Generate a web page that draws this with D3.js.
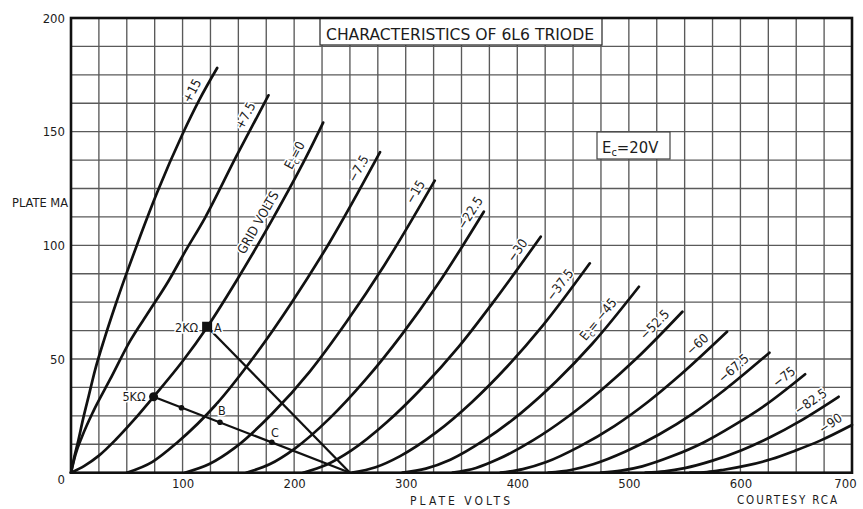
<!DOCTYPE html>
<html><head><meta charset="utf-8">
<script src="https://cdn.jsdelivr.net/npm/d3@7"></script>
<style>
body{margin:0;background:#fff;}
svg{display:block;background:#fff;}
text{font-family:'DejaVu Sans','Liberation Sans',sans-serif;font-stretch:condensed;fill:#1c1c1c;}
</style></head><body>
<svg id="c" width="863" height="509"></svg>
<script>
// ---------------- DATA ----------------
const gridVoltLabels = ["+15","+7.5","0","−7.5","−15","−22.5","−30","−37.5","−45","−52.5","−60","−67.5","−75","−82.5","−90"];
// plate volts , plate mA
const ecP15   = [[0,0],[3,7],[6,13],[11,24],[16,34],[21.5,45],[30,59],[40,74],[50,88],[62,104],[77,123],[100,149],[115,164],[131,178]];
const ecP7_5  = [[0,0],[4,8],[10,16],[20,27],[35,41],[53,58],[70,71],[87,84],[102,97],[120,112],[148,139],[177,166]];
const ec0     = [[0,0],[12,3],[25,7.5],[40,14.5],[56,23],[74,33.4],[100,49],[122,64],[149,85],[180,111],[213,141],[226,154]];
const ecM7_5  = [[50,0],[73,4.8],[95,13.2],[130,30],[164,51],[198,75],[232,101.5],[277,141]];
const ecM15   = [[102,0],[124,3.8],[147,11],[180,25.8],[214,44.5],[247,66.4],[281,91.4],[326,128.5]];
const ecM22_5 = [[157,0],[178,3.7],[200,10.4],[232,24],[264,40.9],[296,60.4],[328,82.3],[370,114.8]];
const ecM30   = [[208,0],[229,3.5],[251,9.7],[283,22.2],[315,37.5],[347,55.1],[378,74.7],[421,103.8]];
const ecM37_5 = [[252,0],[273,2.4],[295,7.3],[327,17.6],[359,30.9],[391,46.7],[423,64.8],[465,92.1]];
const ecM45   = [[297,0],[318,1.8],[340,5.7],[371,14.5],[403,26.1],[435,40.2],[467,56.6],[509,81.8]];
const ecM52_5 = [[342,0],[363,2.1],[383,6],[414,14.2],[445,24.5],[476,36.6],[507,50.3],[548,70.8]];
const ecM60   = [[385,0],[405,1.6],[426,4.7],[456,11.6],[487,20.5],[517,31.1],[547,43.4],[588,62]];
const ecM67_5 = [[428,0],[448,1.2],[468,3.7],[497,9.3],[527,16.8],[557,25.9],[586,36.5],[626,52.8]];
const ecM75   = [[475,0],[493,0.9],[512,2.8],[539,7.3],[567,13.3],[594,20.8],[622,29.6],[658,43.3]];
const ecM82_5 = [[515,0],[532,0.6],[550,2],[575,5.3],[601,9.9],[627,15.7],[653,22.6],[688,33.4]];
const ecM90   = [[555,0],[570,0.3],[584,1.2],[606,3.2],[628,6],[649,9.7],[671,14],[700,21]];
const curves = [ecP15,ecP7_5,ec0,ecM7_5,ecM15,ecM22_5,ecM30,ecM37_5,ecM45,ecM52_5,ecM60,ecM67_5,ecM75,ecM82_5,ecM90];

const load2k = [[122,64.2],[250,0]];
const load5k = [[74,33.4],[250,0]];
const pointA = [122,64.2];
const point5k = [74,33.4];
const pointB = [133.5,22.2];
const pointC = [180,13.4];
const pointSmall = [99,28.6];

const xTicks = [100,200,300,400,500,600,700];
const yTicks = [0,50,100,150,200];
const titleText = "CHARACTERISTICS OF 6L6 TRIODE";

// ---------------- LAYOUT ----------------
const x = d3.scaleLinear().domain([0,700]).range([71,852]);
const y = d3.scaleLinear().domain([0,200]).range([472.7,18]);
const svg = d3.select('#c');
const labelAnchorV = [117,165,209,266,317,366,408,446,480,530,568,600,645,668,685];
const labelAngleTweak = [0,0,0,0,0,0,0,0,0,0,0,-2,0,-2,-8];

// grid
const g = svg.append('g');
g.selectAll('line.v').data(d3.range(25,700,25)).join('line').attr('class','v')
  .attr('x1',d=>x(d)).attr('x2',d=>x(d)).attr('y1',y(0)).attr('y2',y(200))
  .attr('stroke','#5a5a5a').attr('stroke-width',1.35);
g.selectAll('line.h').data(d3.range(12.5,200,12.5)).join('line').attr('class','h')
  .attr('x1',x(0)).attr('x2',x(700)).attr('y1',d=>y(d)).attr('y2',d=>y(d))
  .attr('stroke','#5a5a5a').attr('stroke-width',1.35);

// title box
svg.append('rect').attr('x',320).attr('y',y(200)).attr('width',282).attr('height',27)
  .attr('fill','#fff').attr('stroke','#333').attr('stroke-width',1.3);
svg.append('text').attr('x',326).attr('y',39.5).attr('font-size',16.5)
  .attr('textLength',268).attr('lengthAdjust','spacingAndGlyphs').text(titleText);

// Ec = 20V box
svg.append('rect').attr('x',597).attr('y',132).attr('width',73).attr('height',27)
  .attr('fill','#fff').attr('stroke','#444').attr('stroke-width',1.2);
const ecT = svg.append('text').attr('x',602).attr('y',153).attr('font-size',16.5);
ecT.append('tspan').text('E');
ecT.append('tspan').attr('font-size',11).attr('dy',3).text('c');
ecT.append('tspan').attr('dy',-3).text('=20V');

// frame
svg.append('rect').attr('x',x(0)).attr('y',y(200)).attr('width',x(700)-x(0)).attr('height',y(0)-y(200))
  .attr('fill','none').attr('stroke','#111').attr('stroke-width',2.6);

// axes
const gx = svg.append('g').attr('transform',`translate(0,${y(0)})`)
  .call(d3.axisBottom(x).tickValues(xTicks).tickSize(0).tickPadding(6).tickFormat(d3.format('d')));
gx.select('.domain').remove();
gx.selectAll('text').attr('font-size',13).attr('font-family',"'DejaVu Sans',sans-serif").attr('fill','#222')
  .attr('dx',d=>d===700?-7:0);
const gy = svg.append('g').attr('transform',`translate(${x(0)},0)`)
  .call(d3.axisLeft(y).tickValues(yTicks).tickSize(0).tickPadding(6).tickFormat(d3.format('d')));
gy.select('.domain').remove();
gy.selectAll('text').attr('font-size',13).attr('font-family',"'DejaVu Sans',sans-serif").attr('fill','#222')
  .attr('dy',d=>d===0?'0.85em':'0.32em');

svg.append('text').attr('x',68).attr('y',207).attr('text-anchor','end').attr('font-size',11.5)
  .attr('textLength',56).attr('lengthAdjust','spacingAndGlyphs').text('PLATE MA');
svg.append('text').attr('x',410).attr('y',505).attr('font-size',12)
  .attr('textLength',100).attr('lengthAdjust','spacing').text('PLATE VOLTS');
svg.append('text').attr('x',737).attr('y',504).attr('font-size',11.5)
  .attr('textLength',100).attr('lengthAdjust','spacing').text('COURTESY RCA');

// curves
const line = d3.line().x(d=>x(d[0])).y(d=>y(d[1])).curve(d3.curveMonotoneX);
svg.append('g').selectAll('path').data(curves).join('path')
  .attr('d',line).attr('fill','none').attr('stroke','#111').attr('stroke-width',2.7)
  .attr('stroke-linecap','round').attr('stroke-linejoin','round');

// load lines
const straight = d3.line().x(d=>x(d[0])).y(d=>y(d[1]));
svg.append('g').selectAll('path').data([load2k,load5k]).join('path')
  .attr('d',straight).attr('fill','none').attr('stroke','#111').attr('stroke-width',2.3);

svg.append('rect').attr('x',x(pointA[0])-5).attr('y',y(pointA[1])-5).attr('width',10).attr('height',10).attr('fill','#111');
svg.append('circle').attr('cx',x(point5k[0])).attr('cy',y(point5k[1])).attr('r',4.5).attr('fill','#111');
svg.selectAll('circle.sm').data([pointB,pointC,pointSmall]).join('circle').attr('class','sm')
  .attr('cx',d=>x(d[0])).attr('cy',d=>y(d[1])).attr('r',2.8).attr('fill','#111');

function halo(sel){return sel.attr('stroke','#fff').attr('stroke-width',3).attr('paint-order','stroke');}
halo(svg.append('text').attr('x',x(pointA[0])-9).attr('y',y(pointA[1])+5).attr('text-anchor','end').attr('font-size',12.5).text('2KΩ'));
halo(svg.append('text').attr('x',x(pointA[0])+7).attr('y',y(pointA[1])+5).attr('font-size',12.5).text('A'));
halo(svg.append('text').attr('x',x(point5k[0])-8).attr('y',y(point5k[1])+4).attr('text-anchor','end').attr('font-size',12.5).text('5KΩ'));
halo(svg.append('text').attr('x',x(pointB[0])+2).attr('y',y(pointB[1])-7).attr('text-anchor','middle').attr('font-size',12.5).text('B'));
halo(svg.append('text').attr('x',x(pointC[0])+3).attr('y',y(pointC[1])-5).attr('text-anchor','middle').attr('font-size',12.5).text('C'));

// curve labels along the curves
function interp(c,v){
  for(let i=1;i<c.length;i++){ if(v<=c[i][0]){const a=c[i-1],b=c[i];const t=(v-a[0])/(b[0]-a[0]);return a[1]+t*(b[1]-a[1]);} }
  return c[c.length-1][1];
}
function placeLabel(c,v,off,tweak){
  const v0=Math.max(c[0][0],v-8), v1=Math.min(c[c.length-1][0],v+8);
  const dx=x(v1)-x(v0), dy=y(interp(c,v1))-y(interp(c,v0));
  const L=Math.hypot(dx,dy), ux=dx/L, uy=dy/L;
  const px=x(v)+uy*off, py=y(interp(c,v))-ux*off;
  const ang=Math.atan2(dy,dx)*180/Math.PI+(tweak||0);
  return svg.append('text').attr('transform',`translate(${px},${py}) rotate(${ang})`)
    .attr('text-anchor','middle').attr('dy','0.35em').attr('font-size',13);
}
curves.forEach((c,i)=>{
  const t = halo(placeLabel(c,labelAnchorV[i],11,labelAngleTweak[i]));
  const s = gridVoltLabels[i];
  if(i===2 || i===8){
    t.append('tspan').text('E');
    t.append('tspan').attr('font-size',9).attr('dy',3).text('c');
    t.append('tspan').attr('dy',-3).text(i===2?'=0':'= '+s);
  } else t.text(s);
});
halo(placeLabel(ec0,176,11,0)).text('GRID VOLTS');
</script></body></html>
